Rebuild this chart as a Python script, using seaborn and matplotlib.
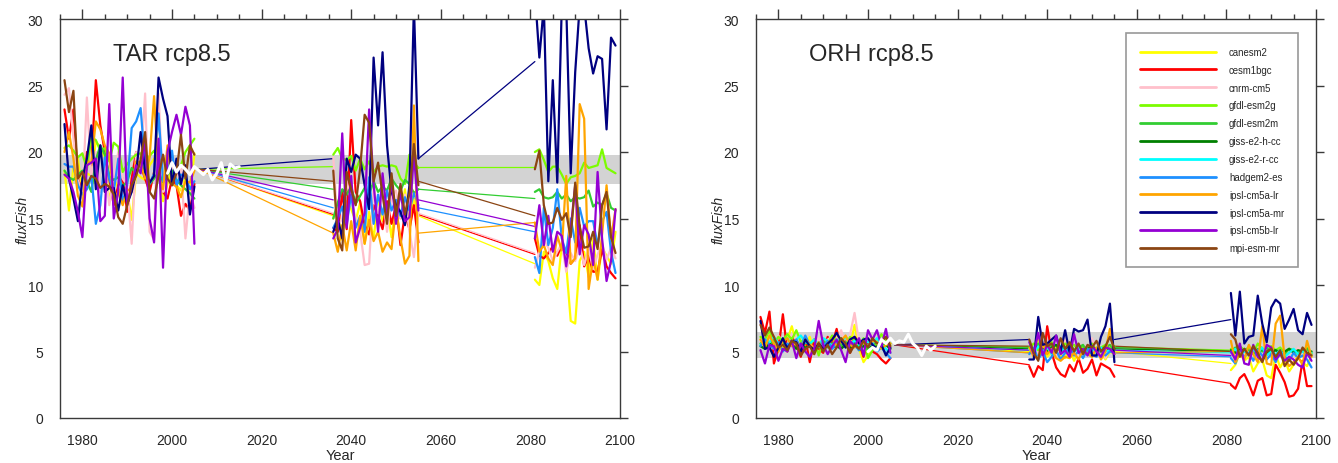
import numpy as np
import pandas as pd
import matplotlib
matplotlib.use("Agg")
import matplotlib.pyplot as plt
from matplotlib.ticker import MultipleLocator
from matplotlib.lines import Line2D
import seaborn as sns

# ---------------------------------------------------------------- periods
HIST_YEARS = list(range(1976, 2006))   # 30 years
MID_YEARS = list(range(2036, 2056))    # 20 years
END_YEARS = list(range(2081, 2100))    # 19 years

MODELS = ["canesm2", "cesm1bgc", "cnrm-cm5", "gfdl-esm2g", "gfdl-esm2m",
          "giss-e2-h-cc", "giss-e2-r-cc", "hadgem2-es", "ipsl-cm5a-lr",
          "ipsl-cm5a-mr", "ipsl-cm5b-lr", "mpi-esm-mr"]
COLORS = ["#ffff00", "#ff0000", "#ffc0cb", "#7cfc00", "#32cd32",
          "#008000", "#00ffff", "#1e90ff", "#ffa500",
          "#000080", "#9400d3", "#8b4513"]

# ---------------------------------------------------------------- TAR rcp8.5
tar_canesm2 = [18.6, 15.6, 18.9, 19.5, 17.0, 18.4, 18.2, 20.8, 20.3, 19.6, 16.3, 18.0, 17.3, 16.4, 17.0,
               14.9, 18.4, 18.1, 17.9, 19.0, 19.5, 18.5, 16.3, 17.6, 18.8, 17.5, 17.1, 18.1, 16.8, 19.9,
               15.0, 15.8, 13.4, 16.3, 15.7, 14.8, 16.2, 13.1, 15.5, 13.4, 16.6, 14.8, 15.8, 13.6, 16.1, 15.0, 17.2, 14.2, 16.5, 15.4,
               10.4, 10.0, 12.5, 11.8, 10.5, 9.7, 13.0, 11.5, 7.3, 7.1, 11.8, 12.5, 10.6, 13.5, 10.4, 12.8, 12.2, 11.6, 14.0]
tar_cesm1bgc = [23.2, 21.0, 23.2, 18.0, 17.0, 20.0, 19.0, 25.4, 22.0, 20.0, 18.0, 16.0, 17.5, 18.0, 15.5,
                18.0, 20.0, 19.0, 18.0, 17.0, 18.5, 19.6, 17.0, 16.5, 18.0, 17.5, 15.2, 16.1, 15.6, 17.6,
                14.3, 14.0, 17.0, 14.2, 22.4, 17.0, 16.3, 14.5, 13.8, 16.0, 15.2, 14.2, 16.3, 14.6, 16.0, 13.0, 15.4, 14.2, 16.0, 13.2,
                13.5, 12.2, 12.0, 12.4, 12.9, 12.2, 13.0, 12.5, 11.6, 12.0, 14.5, 11.4, 12.2, 11.0, 11.0, 12.7, 11.4, 10.9, 10.5]
tar_cnrm_cm5 = [24.3, 24.8, 21.0, 18.0, 16.5, 24.1, 18.0, 20.0, 17.0, 19.0, 16.0, 18.0, 20.0, 18.0, 17.5,
                13.1, 20.0, 19.0, 24.4, 14.0, 13.4, 24.4, 17.0, 20.0, 19.0, 18.0, 19.0, 13.5, 17.0, 15.8,
                19.6, 14.4, 15.0, 17.8, 16.2, 15.1, 14.0, 11.5, 11.6, 17.5, 15.4, 16.8, 14.0, 16.7, 17.1, 15.0, 16.8, 14.0, 12.1, 15.5,
                11.3, 12.5, 13.4, 12.8, 11.8, 12.5, 13.1, 11.0, 12.4, 11.8, 13.0, 11.5, 12.7, 11.2, 12.3, 13.1, 11.9, 12.8, 12.0]
tar_gfdl_esm2g = [20.3, 20.5, 20.1, 19.6, 19.9, 18.7, 21.1, 20.9, 20.1, 20.3, 19.3, 20.7, 20.4, 18.5, 19.1,
                  19.5, 19.8, 19.9, 19.2, 19.7, 20.1, 19.2, 19.6, 18.6, 19.2, 18.8, 19.0, 20.0, 20.5, 21.0,
                  19.8, 20.3, 19.5, 19.4, 19.7, 18.6, 19.5, 18.7, 19.3, 18.5, 18.9, 19.0, 18.9, 19.0, 18.9, 18.0, 17.6, 19.8, 19.2, 18.8,
                  20.0, 20.2, 19.4, 18.5, 18.9, 18.9, 18.3, 17.6, 18.1, 18.2, 18.4, 19.2, 18.8, 18.9, 19.0, 20.2, 18.8, 18.6, 18.4]
tar_gfdl_esm2m = [18.6, 18.1, 17.9, 18.3, 18.6, 17.8, 17.0, 19.4, 20.5, 19.8, 18.2, 17.9, 18.1, 17.4, 17.8,
                  18.8, 18.4, 19.3, 18.2, 17.6, 18.0, 18.5, 17.7, 18.3, 18.6, 17.9, 17.5, 17.2, 16.9, 16.5,
                  15.0, 16.2, 17.2, 16.8, 17.4, 16.1, 16.7, 17.3, 16.8, 17.8, 17.0, 17.4, 17.1, 18.0, 17.5, 17.1, 17.9, 17.6, 16.9, 17.2,
                  17.0, 17.2, 16.6, 16.5, 16.6, 17.0, 16.5, 16.8, 16.3, 16.6, 16.5, 16.6, 17.1, 15.9, 16.2, 16.0, 16.9, 15.8, 15.6]
tar_hadgem2_es = [19.1, 18.9, 18.9, 17.5, 16.8, 17.2, 18.2, 14.6, 16.0, 19.6, 18.0, 17.0, 19.5, 16.2, 17.5,
                  21.8, 22.3, 23.3, 19.0, 17.6, 18.4, 22.9, 17.8, 18.5, 20.1, 17.5, 18.3, 18.2, 17.2, 17.8,
                  14.3, 15.0, 15.9, 14.6, 16.8, 14.3, 15.2, 14.0, 18.1, 14.6, 16.8, 15.3, 17.1, 15.6, 16.4, 15.2, 16.6, 15.6, 16.9, 16.0,
                  12.1, 10.9, 15.8, 13.0, 14.3, 17.2, 13.5, 12.4, 15.0, 13.2, 15.8, 14.4, 14.8, 14.8, 13.0, 14.8, 15.5, 12.5, 10.9]
tar_ipsl_cm5a_lr = [20.0, 21.5, 19.5, 16.7, 15.9, 19.3, 19.2, 22.3, 21.7, 20.5, 19.9, 16.4, 17.0, 16.0, 17.2,
                    17.0, 19.3, 19.2, 18.0, 19.6, 24.2, 18.2, 17.2, 20.5, 17.6, 17.4, 16.6, 17.8, 17.7, 18.6,
                    13.9, 12.5, 14.5, 12.6, 14.8, 12.6, 15.2, 13.1, 14.9, 13.3, 14.0, 12.5, 13.2, 12.7, 15.8, 13.5, 11.6, 12.2, 23.5, 11.8,
                    14.7, 12.5, 13.0, 12.0, 11.5, 13.7, 12.6, 18.2, 11.6, 12.0, 23.6, 22.5, 9.7, 12.0, 10.4, 13.8, 17.5, 13.5, 15.7]
tar_ipsl_cm5a_mr = [22.1, 18.0, 16.5, 14.8, 18.0, 19.5, 22.0, 17.2, 20.5, 17.0, 17.3, 17.3, 15.6, 17.5, 16.1,
                    17.0, 18.5, 21.5, 18.5, 17.7, 18.2, 25.6, 24.0, 22.7, 17.5, 19.5, 17.6, 19.0, 15.3, 17.4,
                    14.0, 15.0, 13.5, 19.5, 18.5, 19.8, 19.5, 17.5, 15.7, 27.1, 22.0, 27.5, 20.5, 17.0, 16.0, 15.5, 14.5, 17.5, 31.0, 19.5,
                    32.0, 27.1, 31.0, 17.8, 25.4, 17.7, 31.0, 31.0, 18.4, 26.0, 31.0, 31.0, 27.8, 25.9, 27.2, 27.0, 21.7, 28.6, 28.0]
tar_ipsl_cm5b_lr = [18.3, 18.0, 17.0, 15.5, 13.6, 19.0, 19.2, 19.5, 14.8, 15.2, 23.6, 15.0, 17.0, 25.6, 16.0,
                    17.5, 19.0, 18.4, 21.0, 15.0, 13.2, 21.0, 11.3, 20.0, 21.5, 22.8, 21.3, 23.4, 22.0, 13.1,
                    13.5, 14.2, 21.4, 14.3, 18.2, 13.2, 14.3, 15.4, 23.2, 17.6, 14.0, 18.4, 15.2, 17.8, 14.6, 17.0, 14.8, 15.1, 19.8, 15.6,
                    13.5, 16.0, 13.0, 15.2, 12.5, 14.0, 13.7, 11.4, 14.2, 17.5, 12.3, 14.5, 13.8, 11.5, 18.5, 13.5, 10.3, 11.8, 15.7]
tar_mpi_esm_mr = [25.4, 23.0, 24.6, 18.0, 18.5, 17.5, 18.2, 18.0, 17.3, 17.6, 17.4, 16.8, 15.1, 14.6, 16.0,
                  17.5, 18.2, 19.4, 21.5, 17.0, 16.5, 18.2, 19.8, 18.0, 17.5, 18.4, 21.3, 18.0, 20.5, 19.8,
                  18.6, 13.5, 12.6, 18.5, 17.2, 16.0, 18.8, 22.8, 22.2, 17.8, 19.2, 16.8, 14.6, 18.4, 15.2, 17.6, 15.3, 16.9, 20.6, 17.5,
                  18.7, 20.1, 16.0, 14.6, 14.7, 15.8, 14.9, 15.4, 13.6, 17.7, 14.4, 12.8, 12.9, 14.0, 12.7, 16.0, 17.0, 13.6, 12.4]

# period means (thin connecting lines): historic anchor, mid-century, end-century
TAR_MODELS = ["canesm2", "cesm1bgc", "cnrm-cm5", "gfdl-esm2g", "gfdl-esm2m", "hadgem2-es",
              "ipsl-cm5a-lr", "ipsl-cm5a-mr", "ipsl-cm5b-lr", "mpi-esm-mr"]
TAR_SERIES = [tar_canesm2, tar_cesm1bgc, tar_cnrm_cm5, tar_gfdl_esm2g, tar_gfdl_esm2m, tar_hadgem2_es,
              tar_ipsl_cm5a_lr, tar_ipsl_cm5a_mr, tar_ipsl_cm5b_lr, tar_mpi_esm_mr]
TAR_HIST_MEAN = 18.7
TAR_MID_MEAN = [15.2, 15.3, 15.4, 18.9, 17.2, 15.8, 13.9, 19.5, 16.4, 17.8]
TAR_END_MEAN = [11.6, 12.3, 12.4, 18.9, 16.5, 14.0, 14.7, 26.8, 14.4, 15.2]

TAR_OBS_YEARS = list(range(1999, 2016))
TAR_OBS = [18.4, 19.2, 18.5, 19.0, 18.7, 18.3, 18.9, 18.6, 18.3, 18.7, 17.9, 18.4, 19.2, 17.8, 19.1, 18.8, 18.9]
TAR_BAND = [17.6, 19.8]

# ---------------------------------------------------------------- ORH rcp8.5
orh_canesm2 = [5.9, 5.6, 6.2, 5.4, 5.8, 5.2, 5.9, 6.9, 5.5, 5.7, 5.3, 6.1, 4.8, 5.5, 5.1,
               5.7, 5.3, 6.5, 5.6, 5.9, 5.4, 7.0, 5.2, 4.2, 4.7, 5.6, 5.9, 5.3, 5.7, 5.5,
               5.2, 4.8, 5.9, 5.3, 4.6, 5.0, 5.4, 4.7, 4.5, 5.1, 4.3, 5.0, 4.8, 5.2, 4.6, 5.3, 4.9, 4.4, 5.0, 4.8,
               3.6, 4.0, 4.9, 4.3, 4.6, 3.5, 4.1, 4.4, 3.2, 3.0, 4.8, 3.8, 4.4, 3.5, 4.0, 4.5, 4.2, 3.9, 4.7]
orh_cesm1bgc = [7.6, 6.4, 8.0, 4.1, 5.2, 7.8, 5.0, 6.2, 5.5, 4.6, 6.0, 4.2, 5.9, 5.2, 4.9,
                6.1, 5.5, 6.7, 5.2, 5.8, 4.9, 6.1, 5.6, 4.6, 5.8, 5.0, 4.8, 4.4, 4.1, 4.5,
                3.9, 3.1, 3.9, 3.6, 6.9, 4.9, 3.8, 3.3, 3.1, 4.0, 3.5, 4.5, 3.4, 3.7, 4.4, 3.2, 4.1, 3.9, 3.7, 3.1,
                2.5, 2.2, 3.0, 3.3, 2.6, 1.7, 2.8, 3.0, 1.7, 1.8, 4.0, 3.4, 2.7, 1.6, 1.7, 2.2, 4.3, 2.4, 2.4]
orh_cnrm_cm5 = [5.8, 6.0, 5.4, 5.2, 6.2, 5.7, 5.5, 6.3, 5.9, 5.3, 5.8, 5.6, 5.2, 6.0, 5.4,
                5.9, 6.1, 5.7, 6.6, 5.5, 6.3, 7.9, 5.7, 5.5, 5.9, 6.2, 5.4, 5.8, 5.5, 5.2,
                5.5, 5.2, 4.8, 5.6, 5.0, 5.4, 4.7, 5.3, 5.9, 4.9, 5.1, 4.6, 5.5, 5.0, 6.0, 4.8, 5.2, 4.5, 5.3, 4.9,
                5.1, 4.8, 5.3, 4.9, 5.2, 4.7, 5.0, 5.4, 4.6, 5.1, 4.9, 5.2, 4.8, 5.0, 4.7, 5.3, 4.9, 5.1, 4.8]
orh_gfdl_esm2g = [6.1, 5.9, 6.6, 5.6, 6.1, 5.8, 6.3, 5.9, 6.6, 5.7, 6.0, 5.5, 5.9, 4.7, 5.8,
                  5.6, 6.2, 5.7, 6.0, 5.5, 6.1, 5.8, 5.4, 6.0, 4.5, 5.1, 5.7, 6.3, 5.8, 5.6,
                  5.3, 5.6, 5.1, 5.5, 5.2, 5.7, 5.4, 5.0, 5.6, 5.3, 5.5, 5.1, 5.4, 5.2, 5.6, 5.0, 5.3, 5.5, 5.2, 5.4,
                  5.2, 5.0, 5.4, 5.1, 5.3, 4.9, 5.6, 5.2, 5.0, 5.4, 5.1, 5.3, 4.9, 5.2, 5.0, 4.8, 5.1, 5.3, 4.9]
orh_gfdl_esm2m = [5.6, 5.8, 5.4, 5.9, 5.5, 5.7, 5.3, 5.8, 5.6, 5.2, 5.7, 5.5, 5.0, 5.4, 5.8,
                  5.3, 5.6, 5.9, 5.4, 5.7, 5.5, 5.8, 5.3, 5.6, 5.1, 5.5, 5.7, 5.4, 5.6, 5.2,
                  5.4, 5.2, 5.6, 5.1, 5.3, 5.5, 5.0, 5.4, 5.2, 5.6, 5.1, 5.3, 5.5, 4.9, 5.4, 5.2, 5.0, 5.3, 5.5, 5.1,
                  5.0, 5.3, 4.9, 5.2, 5.1, 4.8, 5.2, 5.0, 5.3, 4.9, 5.1, 5.0, 4.8, 5.2, 5.1, 4.9, 5.0, 5.2, 4.8]
orh_giss_e2_h_cc = [5.4, 5.2, 5.6, 5.3, 5.5, 5.1, 5.4, 5.6, 5.2, 5.5, 5.3, 5.4, 5.1, 5.5, 5.2,
                    5.6, 5.3, 5.4, 5.2, 5.5, 5.3, 5.6, 5.1, 5.4, 5.5, 5.2, 5.4, 5.3, 5.5, 5.2,
                    5.3, 5.1, 5.4, 5.2, 5.0, 5.3, 5.5, 5.1, 5.2, 5.4, 5.0, 5.3, 5.1, 5.2, 5.4, 5.0, 5.2, 5.3, 5.1, 5.2,
                    5.1, 4.9, 5.2, 5.0, 4.8, 5.1, 5.0, 5.2, 4.9, 5.0, 5.1, 4.8, 5.0, 5.2, 4.9, 5.1, 5.0, 4.8, 5.0]
orh_giss_e2_r_cc = [5.5, 5.9, 5.7, 6.1, 5.6, 5.8, 6.0, 5.5, 5.9, 6.2, 5.7, 5.6, 5.9, 5.5, 6.0,
                    5.8, 5.4, 5.9, 5.7, 6.1, 5.6, 5.8, 5.5, 5.9, 5.7, 5.6, 6.0, 5.5, 5.2, 4.9,
                    5.2, 4.9, 5.4, 5.0, 5.3, 4.8, 5.1, 5.4, 4.9, 5.2, 5.0, 5.3, 4.8, 5.1, 5.2, 4.9, 5.3, 5.0, 5.1, 4.9,
                    4.9, 5.2, 4.7, 5.0, 4.8, 5.1, 4.9, 5.3, 4.7, 5.0, 4.8, 5.1, 4.6, 4.9, 5.2, 4.8, 5.0, 4.7, 4.9]
orh_hadgem2_es = [5.4, 5.9, 5.5, 5.2, 5.7, 5.0, 5.6, 5.4, 5.9, 5.3, 6.2, 5.5, 5.1, 5.7, 5.4,
                  5.8, 5.2, 5.6, 5.9, 5.3, 5.7, 5.5, 5.1, 5.8, 5.4, 5.6, 5.0, 5.3, 4.9, 4.5,
                  4.8, 5.3, 4.4, 5.0, 4.2, 4.6, 5.1, 4.4, 4.9, 5.3, 4.7, 5.0, 4.5, 5.2, 4.8, 4.6, 5.1, 4.7, 5.0, 4.9,
                  4.5, 4.1, 5.0, 4.6, 4.9, 4.3, 5.1, 4.7, 4.4, 4.8, 4.2, 5.0, 4.6, 4.3, 4.9, 4.5, 4.7, 4.4, 3.8]
orh_ipsl_cm5a_lr = [5.9, 5.3, 6.2, 5.6, 5.0, 5.8, 6.0, 5.4, 5.7, 5.2, 5.9, 5.5, 5.3, 5.7, 5.1,
                    5.6, 6.0, 5.4, 5.8, 6.2, 5.5, 5.3, 5.9, 5.6, 5.4, 5.8, 5.7, 5.2, 5.5, 5.6,
                    5.3, 4.6, 4.5, 5.6, 4.8, 5.2, 4.5, 4.3, 4.6, 4.5, 4.9, 4.4, 5.1, 4.8, 4.6, 5.3, 4.4, 5.0, 6.7, 4.8,
                    5.8, 4.2, 4.9, 4.4, 5.5, 4.8, 4.2, 6.9, 4.1, 4.0, 7.1, 7.7, 4.5, 3.9, 4.2, 4.6, 4.0, 5.8, 4.6]
orh_ipsl_cm5a_mr = [7.3, 5.2, 5.3, 4.6, 5.3, 6.0, 5.2, 5.8, 5.7, 5.0, 5.9, 5.4, 5.1, 5.6, 5.2,
                    5.6, 5.9, 6.4, 5.8, 5.3, 5.9, 6.1, 5.6, 5.9, 6.0, 5.5, 5.2, 5.5, 4.7, 5.3,
                    4.4, 4.4, 7.6, 5.5, 5.6, 5.9, 6.2, 5.0, 6.6, 4.9, 6.7, 6.5, 6.6, 7.4, 4.7, 4.7, 6.1, 6.9, 8.6, 4.2,
                    9.4, 6.2, 9.5, 5.6, 6.1, 6.2, 9.2, 7.1, 5.7, 8.3, 8.9, 8.6, 6.7, 7.4, 8.2, 6.6, 6.3, 7.9, 7.0]
orh_ipsl_cm5b_lr = [5.1, 4.1, 5.5, 5.4, 4.3, 5.2, 5.0, 5.8, 4.5, 5.6, 5.0, 4.6, 5.2, 7.3, 5.5,
                    4.8, 5.4, 5.9, 5.1, 4.2, 5.8, 5.4, 6.0, 4.7, 6.6, 5.9, 6.6, 5.4, 6.7, 4.9,
                    5.7, 4.8, 6.4, 4.7, 5.5, 4.9, 6.2, 4.8, 5.1, 4.6, 6.3, 4.9, 5.2, 4.7, 5.4, 5.0, 4.6, 5.3, 5.2, 4.8,
                    5.0, 4.4, 5.6, 4.1, 4.0, 5.5, 4.6, 4.3, 5.5, 5.3, 4.4, 4.8, 4.3, 4.6, 4.4, 4.0, 3.8, 4.9, 4.3]
orh_mpi_esm_mr = [7.0, 6.2, 6.8, 6.1, 5.3, 5.5, 5.1, 5.8, 5.6, 4.7, 5.2, 5.4, 4.8, 5.6, 5.0,
                  5.5, 4.8, 5.3, 6.0, 5.6, 4.9, 5.5, 5.2, 5.8, 5.3, 6.0, 5.6, 5.7, 6.1, 5.4,
                  5.9, 4.9, 4.3, 6.4, 5.4, 5.6, 4.9, 6.0, 5.2, 5.7, 5.0, 5.6, 4.8, 5.5, 5.3, 5.8, 5.0, 5.4, 6.1, 5.2,
                  6.3, 5.9, 4.6, 5.2, 4.7, 5.4, 4.9, 4.2, 5.0, 5.2, 4.6, 5.1, 3.9, 4.4, 4.0, 4.5, 5.3, 4.9, 4.7]

ORH_MODELS = MODELS
ORH_SERIES = [orh_canesm2, orh_cesm1bgc, orh_cnrm_cm5, orh_gfdl_esm2g, orh_gfdl_esm2m, orh_giss_e2_h_cc,
              orh_giss_e2_r_cc, orh_hadgem2_es, orh_ipsl_cm5a_lr, orh_ipsl_cm5a_mr, orh_ipsl_cm5b_lr, orh_mpi_esm_mr]
ORH_HIST_MEAN = 5.5
ORH_MID_MEAN = [5.0, 4.0, 5.1, 5.35, 5.3, 5.2, 5.1, 4.9, 4.9, 5.9, 5.1, 5.4]
ORH_END_MEAN = [4.1, 2.6, 5.0, 5.1, 5.05, 5.0, 4.9, 4.6, 5.0, 7.4, 4.7, 5.0]

ORH_OBS_YEARS = list(range(2000, 2016))
ORH_OBS = [5.0, 5.3, 5.1, 5.9, 5.6, 6.0, 5.6, 5.8, 5.7, 6.3, 5.6, 5.3, 4.7, 5.4, 5.1, 5.4]
ORH_BAND = [4.5, 6.5]

# anchor years of the thin period-mean connectors
LINK_YEARS = [2006, 2036, 2055, 2081]

PALETTE = dict(zip(MODELS, COLORS))


def annual_frame(models, series):
    rows = []
    for name, vals in zip(models, series):
        years = HIST_YEARS + MID_YEARS + END_YEARS
        segs = (["hist"] * len(HIST_YEARS) + ["mid"] * len(MID_YEARS) + ["end"] * len(END_YEARS))
        for yr, v, s in zip(years, vals, segs):
            rows.append((name, yr, v, s))
    return pd.DataFrame(rows, columns=["model", "year", "value", "seg"])


def link_frame(models, hist_mean, mid_mean, end_mean):
    rows = []
    for name, m, e in zip(models, mid_mean, end_mean):
        rows += [(name, LINK_YEARS[0], hist_mean, "a"), (name, LINK_YEARS[1], m, "a"),
                 (name, LINK_YEARS[2], m, "b"), (name, LINK_YEARS[3], e, "b")]
    return pd.DataFrame(rows, columns=["model", "year", "value", "seg"])


sns.set_style("white")
plt.rcParams["font.family"] = ["Liberation Sans", "DejaVu Sans"]

fig = plt.figure(figsize=(13.38, 4.64), dpi=100)
W, H = 1338.0, 464.0
ax_l = fig.add_axes([60 / W, 45 / H, 560 / W, 399 / H])
ax_r = fig.add_axes([756 / W, 45 / H, 560 / W, 399 / H])

panels = [
    (ax_l, "TAR rcp8.5", TAR_MODELS, TAR_SERIES, TAR_HIST_MEAN, TAR_MID_MEAN, TAR_END_MEAN,
     TAR_OBS_YEARS, TAR_OBS, TAR_BAND),
    (ax_r, "ORH rcp8.5", ORH_MODELS, ORH_SERIES, ORH_HIST_MEAN, ORH_MID_MEAN, ORH_END_MEAN,
     ORH_OBS_YEARS, ORH_OBS, ORH_BAND),
]

for ax, title, models, series, hmean, mmean, emean, oyears, obs, band in panels:
    ax.axhspan(band[0], band[1], color="#d3d3d3", lw=0, zorder=0)

    links = link_frame(models, hmean, mmean, emean)
    sns.lineplot(data=links, x="year", y="value", hue="model", units="seg", estimator=None,
                 palette=PALETTE, hue_order=models, linewidth=0.9, legend=False, sort=False, ax=ax)

    annual = annual_frame(models, series)
    sns.lineplot(data=annual, x="year", y="value", hue="model", units="seg", estimator=None,
                 palette=PALETTE, hue_order=models, linewidth=1.6, legend=False, sort=False, ax=ax)

    sns.lineplot(x=oyears, y=obs, color="white", linewidth=2.2, ax=ax)

    ax.set_xlim(1975, 2100)
    ax.set_ylim(0, 30)
    ax.set_xticks(range(1980, 2101, 20))
    ax.xaxis.set_minor_locator(MultipleLocator(5))
    ax.set_yticks(range(0, 31, 5))
    ax.tick_params(which="both", direction="out", top=True, right=True,
                   labeltop=False, labelright=False, color="#3a3a3a", width=1.0)
    ax.tick_params(axis="x", which="major", length=7.5, pad=3, labelsize=10)
    ax.tick_params(axis="x", which="minor", length=3.5)
    ax.tick_params(axis="y", which="major", length=6, pad=6, labelsize=10)
    for sp in ax.spines.values():
        sp.set_color("#3a3a3a")
        sp.set_linewidth(1.0)
        sp.set_visible(True)

    ax.set_xlabel("Year", fontsize=10.5)
    ax.xaxis.set_label_coords(0.5, -0.075)
    ax.set_ylabel("fluxFish", fontsize=10, style="italic")
    ax.yaxis.set_label_coords(-0.055, 0.5)

    ax.text(0.094, 0.912, title, transform=ax.transAxes, fontsize=17, ha="left", va="center")

handles = [Line2D([], [], color=c, lw=2) for c in COLORS]
leg = ax_r.legend(handles, MODELS, loc="upper right", bbox_to_anchor=(0.968, 0.965),
                  borderaxespad=0, fontsize=6.9, handlelength=8.0, handletextpad=1.3,
                  labelspacing=0.82, borderpad=1.45, frameon=True, fancybox=False)
leg.get_frame().set_edgecolor("#7f7f7f")
leg.get_frame().set_linewidth(1.2)

fig.savefig("out.png", dpi=100)
